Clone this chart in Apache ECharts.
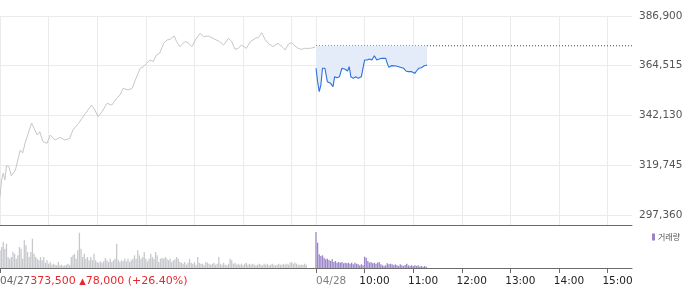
<!DOCTYPE html>
<html><head><meta charset="utf-8">
<script src="https://cdn.jsdelivr.net/npm/echarts@6/dist/echarts.min.js"></script>
<style>html,body{margin:0;padding:0;background:#fff}#c{width:700px;height:289px}</style>
</head><body><div id="c"></div>
<script>
// ---- data (minutes since 09:00 of day 1; day 2 starts at minute 390) ----
const dayLabels = ['04/27', '04/28'];
const dayStarts = [0, 390];
const timeLabels = ['10:00', '11:00', '12:00', '13:00', '14:00', '15:00'];
const timeTicks = [450, 510, 570, 630, 690, 750];
const hourGrid = [0, 60, 120, 180, 240, 300, 360, 390, 450, 510, 570, 630, 690, 750];
const yTicks = [297360, 319745, 342130, 364515, 386900];
const prevClose = 373500;
const change = 78000;
const changePct = 26.40;

const day1Minutes = [0,2,4,6,8,11,14,19,23,25,28,31,35,39,43,46,49,53,58,62,68,74,80,86,90,97,101,107,113,117,121,126,132,138,144,148,152,158,163,167,173,177,181,185,189,193,197,202,206,210,215,218,222,228,232,237,241,247,251,257,263,271,276,282,286,290,294,298,304,309,315,319,323,327,331,337,343,348,352,356,360,364,368,372,376,383,389];
const day1Prices = [305600,313100,316250,313100,319500,319100,315000,317600,323600,326600,325250,329750,334250,338750,335600,333350,334850,330350,329600,333350,331100,332300,331100,331850,335600,338600,340850,343850,346850,344600,341600,343850,347600,346850,349850,351350,354350,353600,354350,358100,363350,364100,365600,367100,366350,369350,370100,374600,376100,376400,377900,375350,373100,375350,374900,373100,376100,379100,377600,377900,376850,375350,373850,376850,375350,371900,372350,373850,372350,375350,376850,377300,379400,376400,374600,373100,374600,373100,371600,374300,374900,373400,372350,371900,372350,372350,372900];

const day2Minutes = [390,392,394,396,398,401,404,406,408,411,413,416,419,422,426,429,431,433,436,439,442,446,448,450,453,456,459,462,465,468,471,476,478,480,483,485,489,492,494,498,501,504,508,512,514,517,520,523,527];
const day2Prices = [363400,357350,352850,355850,363400,363400,357350,358100,356600,355100,359600,359150,359600,363400,362950,362150,364100,359600,358850,359600,358850,359600,363400,367100,367100,367550,367100,369050,367100,367550,367850,367850,365600,363800,364550,363800,364400,364100,363650,363400,362150,361850,361850,361100,362150,363400,363650,364400,364850];

// volume (thousand shares), one bar per 2 minutes
const volStep = 2;
const day1Volume = [17.7,21,26,19.3,24.3,11,9.3,11,16,14.3,9.3,12.7,21,19.3,9.3,27.7,22.7,16,11,16,29.3,14.3,11,9.3,7.7,11,7.7,11,5.3,7.7,4.3,6,3.3,4.3,3.3,2.7,6,2.7,3.3,2,2.7,3.3,4.3,2.7,11,12.7,14.3,9.3,17.7,35.3,19.3,11,14.3,9.3,11,7.7,11,7.7,14.3,7.7,6,5.3,6.7,5.3,6.7,10,7.7,6,9.3,6,7.7,9.3,24.3,7.7,6,7.7,6.7,9.3,6.7,9.3,6,7.7,9.3,12.7,9.3,17.7,12.7,9.3,11,16,9.3,6.7,9.3,14.3,11,9.3,16,12.7,
  6,9.3,10,9.3,11,9.3,7.7,9.3,6,7.7,8.7,11,9.3,6,5.3,4.3,6,3.3,5.3,9.3,5.3,4.3,6,3.3,11,5.3,4.3,4.3,2.7,6,5.3,4.3,3.3,4.3,5.3,3.3,4.3,11,4.3,3.3,5.3,3.3,2.7,4.3,9.3,7.7,4.3,5.3,3.3,4.3,3.3,4.3,2.7,4.3,5.3,3.3,4.3,3.3,4.3,3.3,2.7,3.3,4.3,3.3,2.7,4.3,3.3,4.3,2.7,3.3,4.3,3.3,2.7,3.3,4.3,3.3,3.3,4.3,3.3,4.3,3.3,5.3,6,4.3,5.3,4.3,3.3,3.3,3.3,3.3,4.3,3.3];
const day2Volume = [36,25.3,13.7,12,12.7,10.3,8.7,9.3,8,7,8.7,6,7,5.3,6,5.3,6,4.7,5.3,4.7,5.3,4.3,5.3,3.7,5.3,4.3,3.7,2.7,3.7,2.7,11.3,10.3,7,5.3,6,4.7,5.3,4.3,5.3,6,3.7,2.7,2,2.7,4.7,3.7,4.3,3.7,2.7,3.7,2.7,2,3.7,2.7,2,3,4.3,2.7,2,2.7,2,2.7,2,2.7,1.3,2,1.3,2,1.3];

// ---- build ----
const FONT = 'DejaVu Sans';
const pair = (xs, ys) => xs.map((x, i) => [x, ys[i]]);
const volPairs = (start, vs) => vs.map((v, i) => [start + i * volStep, v]);
const fmt = v => v.toLocaleString('en-US');
const LABEL_SHIFT = 6.5; // layout: time labels start slightly left of their tick

const chart = echarts.init(document.getElementById('c'), null, {renderer: 'canvas'});
chart.setOption({
  animation: false,
  backgroundColor: '#fff',
  grid: [
    {left: 0, right: 68, top: 16, height: 209, outerBoundsMode: 'none', containLabel: false},
    {left: 0, right: 68, top: 226, height: 42, outerBoundsMode: 'none', containLabel: false}
  ],
  legend: {
    data: ['거래량'], left: 652, top: 233, padding: 0, itemGap: 0,
    icon: 'rect', itemWidth: 3, itemHeight: 7, selectedMode: false,
    textStyle: {fontFamily: 'Noto Sans CJK KR', fontSize: 8, color: '#555', padding: [0, 0, 0, -2]}
  },
  xAxis: [
    {gridIndex: 0, type: 'value', min: 0, max: 780, position: 'bottom',
     axisLine: {show: true, lineStyle: {color: '#6b6b6b', width: 1}},
     axisTick: {show: false, customValues: hourGrid},
     axisLabel: {show: false},
     splitLine: {show: true, lineStyle: {color: '#ebebeb', width: 1}}},
    {gridIndex: 1, type: 'value', min: 0, max: 780, position: 'bottom',
     axisLine: {show: true, lineStyle: {color: '#6b6b6b', width: 1}},
     axisTick: {show: true, customValues: [...dayStarts, ...timeTicks], length: 5, lineStyle: {color: '#6b6b6b'}},
     axisLabel: {show: true, customValues: dayStarts, align: 'left', margin: 8,
       fontFamily: FONT, fontSize: 10.5,
       formatter: (v) => v === dayStarts[0]
         ? `{d|${dayLabels[0]}}{r|${fmt(prevClose)} }{t|▲}{r|${fmt(change)} (+${changePct.toFixed(2)}%)}`
         : `{d2|${dayLabels[1]}}`,
       rich: {
         d: {color: '#666', fontFamily: FONT, fontSize: 10.5},
         d2: {color: '#808080', fontFamily: FONT, fontSize: 10.5},
         r: {color: '#e8282d', fontFamily: FONT, fontSize: 11},
         t: {color: '#e8282d', fontFamily: FONT, fontSize: 8.5}
       }},
     splitLine: {show: false}},
    {gridIndex: 1, type: 'value', min: 0, max: 780, position: 'bottom',
     axisLine: {show: false}, axisTick: {show: false}, splitLine: {show: false},
     axisLabel: {show: true, customValues: timeTicks.map(t => t - LABEL_SHIFT), align: 'left', margin: 8,
       color: '#222', fontFamily: FONT, fontSize: 10.5,
       formatter: (v) => {
         const i = timeTicks.findIndex(t => Math.abs(t - LABEL_SHIFT - v) < 0.5);
         return i >= 0 ? timeLabels[i] : '';
       }}}
  ],
  yAxis: [
    {gridIndex: 0, type: 'value', position: 'right', min: 292860, max: 386900,
     axisLine: {show: false},
     axisTick: {show: false, customValues: yTicks},
     axisLabel: {show: true, customValues: yTicks, margin: 7, color: '#555', fontFamily: FONT, fontSize: 10.5,
       formatter: v => fmt(v)},
     splitLine: {show: true, lineStyle: {color: '#ebebeb', width: 1}}},
    {gridIndex: 1, type: 'value', min: 0, max: 42,
     axisLine: {show: false}, axisTick: {show: false}, axisLabel: {show: false}, splitLine: {show: false}}
  ],
  series: [
    {name: '전일', type: 'line', xAxisIndex: 0, yAxisIndex: 0, data: pair(day1Minutes, day1Prices),
     showSymbol: false, symbol: 'none', lineStyle: {color: '#c4c7cc', width: 1}, z: 3},
    {name: '전일종가', type: 'line', xAxisIndex: 0, yAxisIndex: 0, data: [[dayStarts[1], prevClose], [780, prevClose]],
     showSymbol: false, symbol: 'none', lineStyle: {color: '#444', width: 1, type: [1, 2]}, z: 4},
    {name: '현재가', type: 'line', xAxisIndex: 0, yAxisIndex: 0, data: pair(day2Minutes, day2Prices),
     showSymbol: false, symbol: 'none', lineStyle: {color: '#2f6fdb', width: 1.1},
     areaStyle: {color: '#e4ecfa', opacity: 1, origin: prevClose}, z: 5},
    {name: '전일 거래량', type: 'bar', xAxisIndex: 1, yAxisIndex: 1, data: volPairs(dayStarts[0], day1Volume),
     barWidth: 1.3, barGap: '-100%', itemStyle: {color: '#c6c8cc'}, large: false},
    {name: '거래량', type: 'bar', xAxisIndex: 1, yAxisIndex: 1, data: volPairs(dayStarts[1], day2Volume),
     barWidth: 1.3, barGap: '-100%', itemStyle: {color: '#9a84c8'}}
  ]
});
</script>
</body></html>
